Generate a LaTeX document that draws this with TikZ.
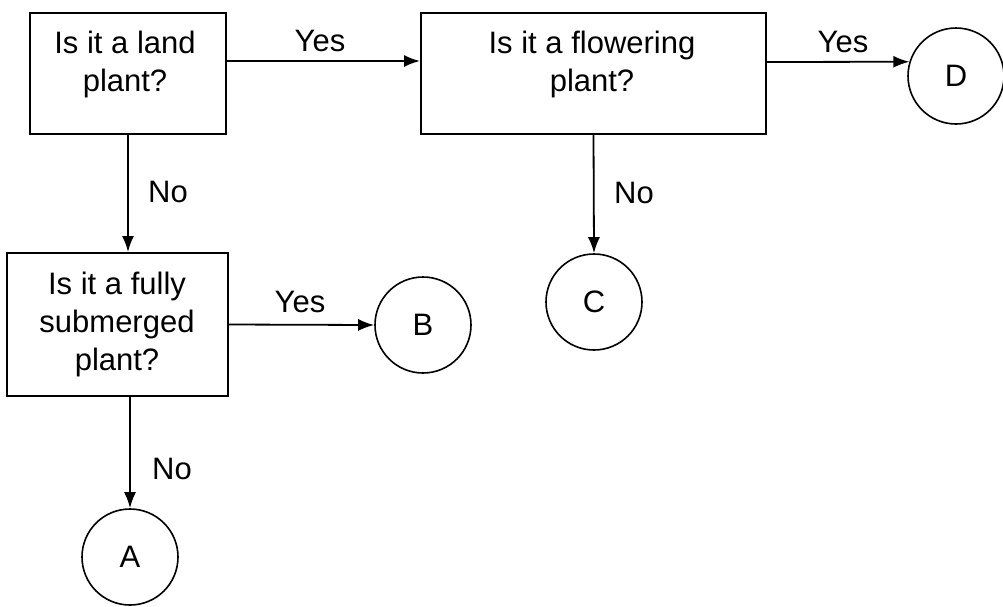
\documentclass[tikz,border=0pt]{standalone}
\usepackage{fontspec}
\setmainfont{Liberation Sans}
\usetikzlibrary{arrows.meta}
\tikzset{
  qbox/.style={draw, line width=2pt, rectangle, inner sep=0pt},
  qtext/.style={align=center, inner sep=0pt, font=\fontsize{31}{38}\selectfont},
  leaf/.style={draw, circle, line width=1.6pt, inner sep=0pt, minimum size=96pt, font=\fontsize{31}{38}\selectfont},
  arr/.style={line width=1.8pt, -{Latex[length=16pt,width=12pt]}},
  lbl/.style={inner sep=0pt, font=\fontsize{31}{38}\selectfont}
}

\begin{document}
\begin{tikzpicture}[x=1pt,y=-1pt]
\useasboundingbox (0,0) rectangle (1003,606);
% question boxes
\node[qbox, minimum width=196pt, minimum height=121pt] (land) at (128,73.5) {};
\node[qbox, minimum width=345pt, minimum height=121pt] (flower) at (593.5,73.5) {};
\node[qbox, minimum width=221pt, minimum height=143pt] (sub) at (117.5,324.5) {};
\node[qtext] (landtxt) at (125,64) {Is it a land\\plant?};
\node[qtext] (flowertxt) at (592,64) {Is it a flowering\\plant?};
\node[qtext] (subtxt) at (117,324) {Is it a fully\\submerged\\plant?};
% answers
\node[leaf] (D) at (956,76) {D};
\node[leaf] (C) at (594,302) {C};
\node[leaf] (B) at (423,325) {B};
\node[leaf] (A) at (130,557) {A};
% arrows
\draw[arr] ([yshift=12.5pt]land.east) -- ([yshift=12.5pt]flower.west);
\draw[arr] ([yshift=11.5pt]flower.east) -- (D.163);
\draw[arr] (land.south) -- (land.south |- sub.north);
\draw[arr] (flower.south) -- (C.north);
\draw[arr] (sub.east) -- (B.west);
\draw[arr] ([xshift=12.5pt]sub.south) -- (A.north);
% answer labels
\node[lbl] (yes1) at (320,41) {Yes};
\node[lbl] (yes2) at (843,42) {Yes};
\node[lbl] (yes3) at (300,302) {Yes};
\node[lbl] (no1) at (168,192) {No};
\node[lbl] (no2) at (634,193) {No};
\node[lbl] (no3) at (172,469) {No};
\end{tikzpicture}
\end{document}
